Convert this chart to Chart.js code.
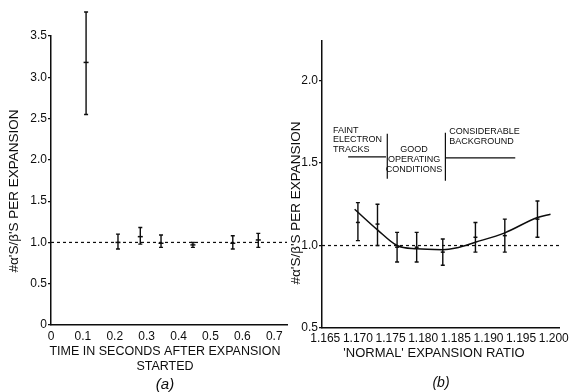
<!DOCTYPE html>
<html>
<head>
<meta charset="utf-8">
<script src="https://cdn.jsdelivr.net/npm/chart.js@4/dist/chart.umd.min.js"></script>
<style>
html, body { margin: 0; padding: 0; background: #fff; }
#wrap { position: relative; width: 576px; height: 392px; overflow: hidden; }
canvas { position: absolute; left: 0; top: 0; }
</style>
</head>
<body>
<div id="wrap">
  <canvas id="chartA" width="576" height="392"></canvas>
  <canvas id="chartB" width="576" height="392"></canvas>
</div>
<script>
// ---- panel (a): time after expansion ----
const timeSec   = [0.11, 0.21, 0.28, 0.345, 0.445, 0.57, 0.65];
const ratioA    = [3.18, 1.00, 1.07, 0.99, 0.97, 0.99, 1.03];
const ratioALo  = [2.55, 0.92, 0.98, 0.94, 0.94, 0.92, 0.94];
const ratioAHi  = [3.79, 1.10, 1.18, 1.09, 1.00, 1.08, 1.11];
const xTicksA   = [0, 0.1, 0.2, 0.3, 0.4, 0.5, 0.6, 0.7];
const xLabelsA  = ['0', '0.1', '0.2', '0.3', '0.4', '0.5', '0.6', '0.7'];
const yTicksA   = [0, 0.5, 1.0, 1.5, 2.0, 2.5, 3.0, 3.5];
const yLabelsA  = ['0', '0.5', '1.0', '1.5', '2.0', '2.5', '3.0', '3.5'];

// ---- panel (b): normal expansion ratio ----
const expRatio  = [1.170, 1.173, 1.176, 1.179, 1.183, 1.188, 1.1925, 1.1975];
const ratioB    = [1.14, 1.13, 0.99, 0.99, 0.96, 1.05, 1.06, 1.16];
const ratioBLo  = [1.03, 1.00, 0.90, 0.90, 0.88, 0.96, 0.96, 1.05];
const ratioBHi  = [1.26, 1.25, 1.08, 1.08, 1.04, 1.14, 1.16, 1.27];
const curveX    = [1.1695, 1.173, 1.176, 1.179, 1.183, 1.185, 1.188, 1.1925, 1.1975, 1.1995];
const curveY    = [1.22, 1.095, 1.00, 0.98, 0.975, 0.985, 1.02, 1.077, 1.17, 1.19];
const xTicksB   = [1.165, 1.170, 1.175, 1.180, 1.185, 1.190, 1.195, 1.200];
const xLabelsB  = ['1.165', '1.170', '1.175', '1.180', '1.185', '1.190', '1.195', '1.200'];
const yTicksB   = [0.5, 1.0, 1.5, 2.0];
const yLabelsB  = ['0.5', '1.0', '1.5', '2.0'];

// region labels in panel (b), in data units
const regionText = [
  { lines: ['FAINT', 'ELECTRON', 'TRACKS'], x: 1.1662, y: 1.70, align: 'left' },
  { lines: ['GOOD', 'OPERATING', 'CONDITIONS'], x: 1.1786, y: 1.58, align: 'center' },
  { lines: ['CONSIDERABLE', 'BACKGROUND'], x: 1.1840, y: 1.69, align: 'left' }
];
const regionLines = [
  [1.1685, 1.538, 1.1743, 1.538],
  [1.1745, 1.678, 1.1745, 1.405],
  [1.1834, 1.684, 1.1834, 1.393],
  [1.1834, 1.532, 1.1941, 1.532]
];

const INK = '#0d0d0d';
const FONT = "'Liberation Sans', Arial, sans-serif";

function errorBars(xs, lo, hi) {
  return {
    id: 'errorBars',
    afterDatasetsDraw(chart) {
      const { ctx, scales: { x, y } } = chart;
      ctx.save();
      ctx.strokeStyle = INK;
      ctx.lineWidth = 1.4;
      xs.forEach((v, i) => {
        const px = x.getPixelForValue(v);
        const top = y.getPixelForValue(hi[i]);
        const bot = y.getPixelForValue(lo[i]);
        ctx.beginPath();
        ctx.moveTo(px, top); ctx.lineTo(px, bot);
        ctx.moveTo(px - 2, top); ctx.lineTo(px + 2, top);
        ctx.moveTo(px - 2, bot); ctx.lineTo(px + 2, bot);
        ctx.stroke();
      });
      ctx.restore();
    }
  };
}

function texts(items) {
  return {
    id: 'texts',
    afterDraw(chart) {
      const ctx = chart.ctx;
      ctx.save();
      ctx.fillStyle = INK;
      ctx.textBaseline = 'middle';
      items.forEach(t => {
        ctx.save();
        ctx.font = t.font;
        ctx.textAlign = t.align || 'center';
        ctx.translate(t.x, t.y);
        if (t.rot) ctx.rotate(t.rot);
        ctx.fillText(t.text, 0, 0);
        ctx.restore();
      });
      ctx.restore();
    }
  };
}

const regions = {
  id: 'regions',
  afterDraw(chart) {
    const { ctx, scales: { x, y } } = chart;
    ctx.save();
    ctx.strokeStyle = INK;
    ctx.lineWidth = 1.2;
    regionLines.forEach(l => {
      ctx.beginPath();
      ctx.moveTo(x.getPixelForValue(l[0]), y.getPixelForValue(l[1]));
      ctx.lineTo(x.getPixelForValue(l[2]), y.getPixelForValue(l[3]));
      ctx.stroke();
    });
    ctx.fillStyle = INK;
    ctx.font = '9px ' + FONT;
    ctx.textBaseline = 'middle';
    regionText.forEach(r => {
      ctx.textAlign = r.align;
      const px = x.getPixelForValue(r.x);
      const py = y.getPixelForValue(r.y);
      r.lines.forEach((s, i) => ctx.fillText(s, px, py + i * 9.8));
    });
    ctx.restore();
  }
};

function axes(o) {
  return {
    x: {
      type: 'linear', min: o.xmin, max: o.xmax,
      afterBuildTicks: s => { s.ticks = o.xt.map(v => ({ value: v })); },
      afterFit: s => { s.height = o.xh; s.paddingLeft = 0; s.paddingRight = 0; },
      grid: { drawOnChartArea: false, drawTicks: false },
      border: { color: INK, width: 1.5 },
      ticks: {
        autoSkip: false, maxRotation: 0, padding: o.xp, color: INK,
        font: { family: FONT, size: 12 },
        callback: (v, i) => o.xl[i]
      }
    },
    y: {
      type: 'linear', min: o.ymin, max: o.ymax,
      afterBuildTicks: s => { s.ticks = o.yt.map(v => ({ value: v })); },
      afterFit: s => { s.width = o.yw; s.paddingTop = 0; s.paddingBottom = 0; },
      grid: { drawOnChartArea: false, drawTicks: true, tickLength: 3, color: INK, lineWidth: 1.2 },
      border: { color: INK, width: 1.5 },
      ticks: {
        autoSkip: false, padding: 1, color: INK,
        font: { family: FONT, size: 12 },
        callback: (v, i) => o.yl[i]
      }
    }
  };
}

const pts = (xs, ys) => xs.map((v, i) => ({ x: v, y: ys[i] }));

const common = {
  responsive: false,
  animation: false,
  devicePixelRatio: 1,
  plugins: { legend: { display: false }, tooltip: { enabled: false } }
};

new Chart(document.getElementById('chartA'), {
  type: 'line',
  data: {
    datasets: [
      {
        data: pts([0, 0.74], [1, 1]), borderColor: INK, borderWidth: 1.2,
        borderDash: [3, 3], pointRadius: 0, fill: false
      },
      {
        data: pts(timeSec, ratioA), showLine: false, clip: false,
        pointStyle: 'line', pointRadius: 2.5, borderColor: INK, borderWidth: 1.5
      }
    ]
  },
  options: Object.assign({}, common, {
    layout: { padding: { left: 0, right: 289, top: 36, bottom: 0 } },
    scales: axes({ xmin: 0, xmax: 0.74, xt: xTicksA, xl: xLabelsA, xh: 67, xp: 4,
                   ymin: 0, ymax: 3.5, yt: yTicksA, yl: yLabelsA, yw: 51 })
  }),
  plugins: [
    errorBars(timeSec, ratioALo, ratioAHi),
    texts([
      { text: "#\u03b1'S/\u03b2'S PER EXPANSION", x: 14, y: 191, rot: -Math.PI / 2, font: '13.5px ' + FONT },
      { text: 'TIME IN SECONDS AFTER EXPANSION', x: 165, y: 352, font: '12.5px ' + FONT },
      { text: 'STARTED', x: 165, y: 367, font: '12.5px ' + FONT },
      { text: '(a)', x: 165, y: 385, font: 'italic 15px ' + FONT }
    ])
  ]
});

new Chart(document.getElementById('chartB'), {
  type: 'line',
  data: {
    datasets: [
      {
        data: pts([1.1645, 1.2008], [1, 1]), borderColor: INK, borderWidth: 1.2,
        borderDash: [3, 3], pointRadius: 0, fill: false
      },
      {
        data: pts(curveX, curveY), borderColor: INK, borderWidth: 1.5,
        pointRadius: 0, fill: false, cubicInterpolationMode: 'monotone'
      },
      {
        data: pts(expRatio, ratioB), showLine: false, clip: false,
        pointStyle: 'line', pointRadius: 2, borderColor: INK, borderWidth: 1.5
      }
    ]
  },
  options: Object.assign({}, common, {
    layout: { padding: { left: 286, right: 17, top: 41, bottom: 0 } },
    scales: axes({ xmin: 1.1645, xmax: 1.2008, xt: xTicksB, xl: xLabelsB, xh: 64, xp: 3,
                   ymin: 0.5, ymax: 2.24, yt: yTicksB, yl: yLabelsB, yw: 36 })
  }),
  plugins: [
    errorBars(expRatio, ratioBLo, ratioBHi),
    regions,
    texts([
      { text: "#\u03b1'S/\u03b2'S PER EXPANSION", x: 296, y: 203, rot: -Math.PI / 2, font: '13.5px ' + FONT },
      { text: "'NORMAL' EXPANSION RATIO", x: 434, y: 353, font: '13px ' + FONT },
      { text: '(b)', x: 441, y: 383, font: 'italic 14px ' + FONT }
    ])
  ]
});
</script>
</body>
</html>
